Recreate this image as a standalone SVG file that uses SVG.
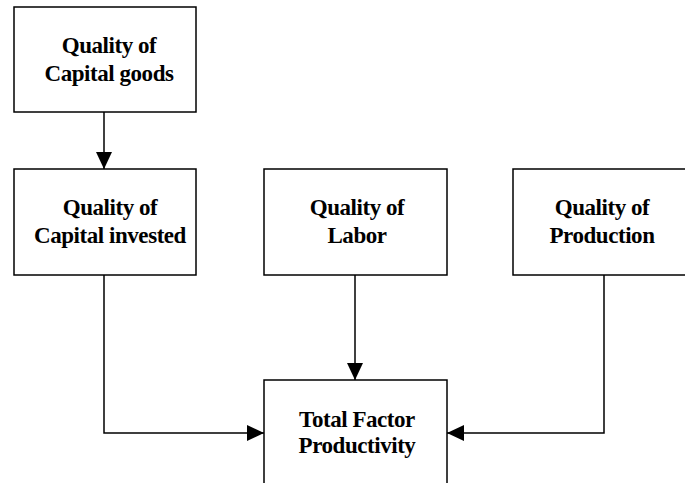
<svg xmlns="http://www.w3.org/2000/svg" width="685" height="483" viewBox="0 0 685 483">
<style>
.box{fill:#fff;stroke:#000;stroke-width:1.5}
.t{font-family:"Liberation Serif","Times New Roman",serif;font-weight:bold;font-size:23px;letter-spacing:-0.45px;text-anchor:middle;fill:#000}
.c{fill:none;stroke:#000;stroke-width:1.5}
</style>
<defs>
<marker id="ah" markerWidth="17" markerHeight="16" refX="17" refY="8" orient="auto" markerUnits="userSpaceOnUse">
<path d="M0,0 L17,8 L0,16 Z" fill="#000"/>
</marker>
</defs>
<rect width="685" height="483" fill="#fff"/>
<g id="connectors">
<path class="c" d="M104,112 V169" marker-end="url(#ah)"/>
<path class="c" d="M355,275 V380" marker-end="url(#ah)"/>
<path class="c" d="M104,275 V433 H264" marker-end="url(#ah)"/>
<path class="c" d="M604,275 V433 H447" marker-end="url(#ah)"/>
</g>
<g id="capital-goods">
<rect class="box" x="14" y="7" width="182" height="105"/>
<text class="t" x="109" y="53">Quality of</text>
<text class="t" x="109" y="81">Capital goods</text>
</g>
<g id="capital-invested">
<rect class="box" x="14" y="169" width="182" height="106"/>
<text class="t" x="110" y="215">Quality of</text>
<text class="t" x="110" y="243">Capital invested</text>
</g>
<g id="labor">
<rect class="box" x="264" y="169" width="183" height="106"/>
<text class="t" x="357" y="215">Quality of</text>
<text class="t" x="357" y="243">Labor</text>
</g>
<g id="production">
<rect class="box" x="513" y="169" width="180" height="106"/>
<text class="t" x="602" y="215">Quality of</text>
<text class="t" x="602" y="243">Production</text>
</g>
<g id="tfp">
<rect class="box" x="264" y="380" width="183" height="110"/>
<text class="t" x="357" y="427">Total Factor</text>
<text class="t" x="357" y="453">Productivity</text>
</g>
</svg>
